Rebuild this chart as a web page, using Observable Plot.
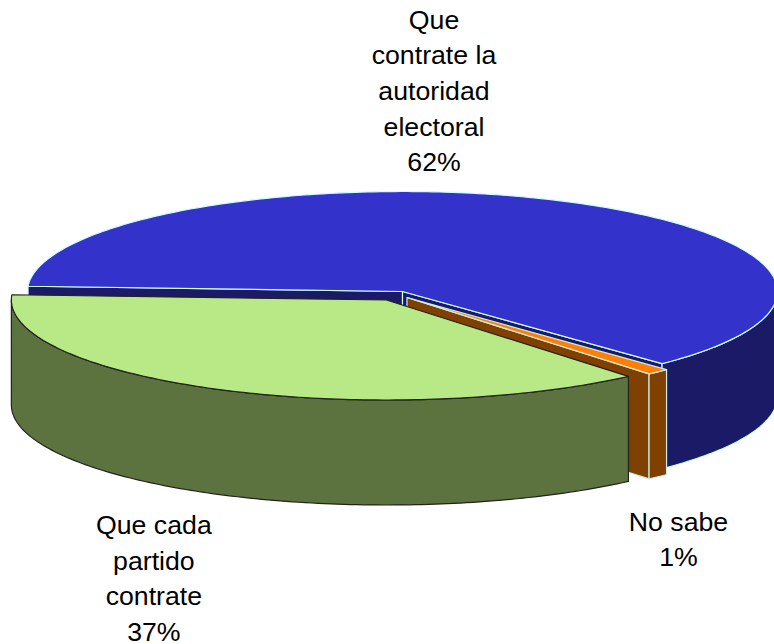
<!DOCTYPE html>
<html>
<head>
<meta charset="utf-8">
<style>html,body{margin:0;padding:0;background:#fff;overflow:hidden}</style>
<script src="https://cdn.jsdelivr.net/npm/d3@7"></script>
<script src="https://cdn.jsdelivr.net/npm/@observablehq/plot@0.6"></script>
</head>
<body>
<div id="chart"></div>
<script>
// Data
const categories = ["Que contrate la autoridad electoral", "No sabe", "Que cada partido contrate"];
const shares = [62, 1, 37];
const labelLines = ["Que\ncontrate la\nautoridad\nelectoral\n62%", "No sabe\n1%", "Que cada\npartido\ncontrate\n37%"];

// Styles
const topColors = ["#3333CC", "#FF8000", "#B8E986"];
const sideColors = ["#1A1A66", "#804000", "#5C7340"];
const edgeColors = ["#CCFFFF", "#CCEEE8", "#222222"];

// Pie geometry in unit-disc coordinates (the scales place it on the page)
const startAngle = 273;
const depth = 1.05;
const offsets = [[0, 0], [0.012, -0.06], [-0.043, -0.085]];
const labelX = [0.084, 0.736, -0.663];
const labelY = [2.03, -2.455, -2.845];

const rad = (a) => (a * Math.PI) / 180;
function pt(i, angle, drop = 0) {
  return {x: offsets[i][0] + Math.sin(rad(angle)), y: offsets[i][1] + Math.cos(rad(angle)) - drop};
}
function hub(i, drop = 0) {
  return {x: offsets[i][0], y: offsets[i][1] - drop};
}
function arc(i, a0, a1, drop = 0) {
  const n = Math.max(2, Math.ceil(Math.abs(a1 - a0)));
  return d3.range(n + 1).map((k) => pt(i, a0 + ((a1 - a0) * k) / n, drop));
}

const total = d3.sum(shares);
let running = startAngle;
const slices = shares.map((v, i) => {
  const a0 = running;
  const a1 = running + (v / total) * 360;
  running = a1;
  return {i, a0, a1};
});

const polygons = [];
for (const {i, a0, a1} of slices) {
  const add = (pts, fill) => polygons.push({pts, fill, stroke: edgeColors[i]});
  const parts = [];
  // Cut faces that look towards the viewer
  const cutStart = [hub(i), pt(i, a0), pt(i, a0, depth), hub(i, depth)];
  const cutEnd = [hub(i), pt(i, a1), pt(i, a1, depth), hub(i, depth)];
  if (i === 0) parts.push(cutStart, cutEnd);
  if (i === 1) parts.push(cutEnd);
  parts.forEach((p) => add(p, sideColors[i]));
  // Outer wall: only the front half of the rim
  let wallA0 = a0 >= 360 ? a0 - 360 : a0, wallA1 = a1 >= 360 ? a1 - 360 : a1;
  if (wallA1 < wallA0) wallA0 -= 360;
  const w0 = Math.max(wallA0, 90), w1 = Math.min(wallA1, 270);
  if (w1 > w0) add([...arc(i, w0, w1), ...arc(i, w1, w0, depth)], sideColors[i]);
  add([hub(i), ...arc(i, a0, a1)], topColors[i]);
}

// Painter's order: blue, then orange, then green
const marks = polygons.map((p) =>
  Plot.line(p.pts, {x: "x", y: "y", fill: p.fill, stroke: p.stroke, strokeWidth: 1.2, curve: "linear-closed"})
);
const labels = labelLines.map((text, i) => ({text, x: labelX[i], y: labelY[i]}));
marks.push(
  Plot.text(labels, {
    x: "x", y: "y", text: "text",
    textAnchor: "middle", lineAnchor: "middle",
    lineHeight: 1.335, fontSize: 26.7,
    fontFamily: "Liberation Sans, Arial, sans-serif", fill: "#000"
  })
);

const chart = Plot.plot({
  width: 774, height: 644,
  margin: 0,
  x: {domain: [-1, 1], range: [27, 777], axis: null},
  y: {domain: [1, -1], range: [191, 391], axis: null},
  style: {background: "#fff"},
  marks
});
document.getElementById("chart").appendChild(chart);
</script>
</body>
</html>
